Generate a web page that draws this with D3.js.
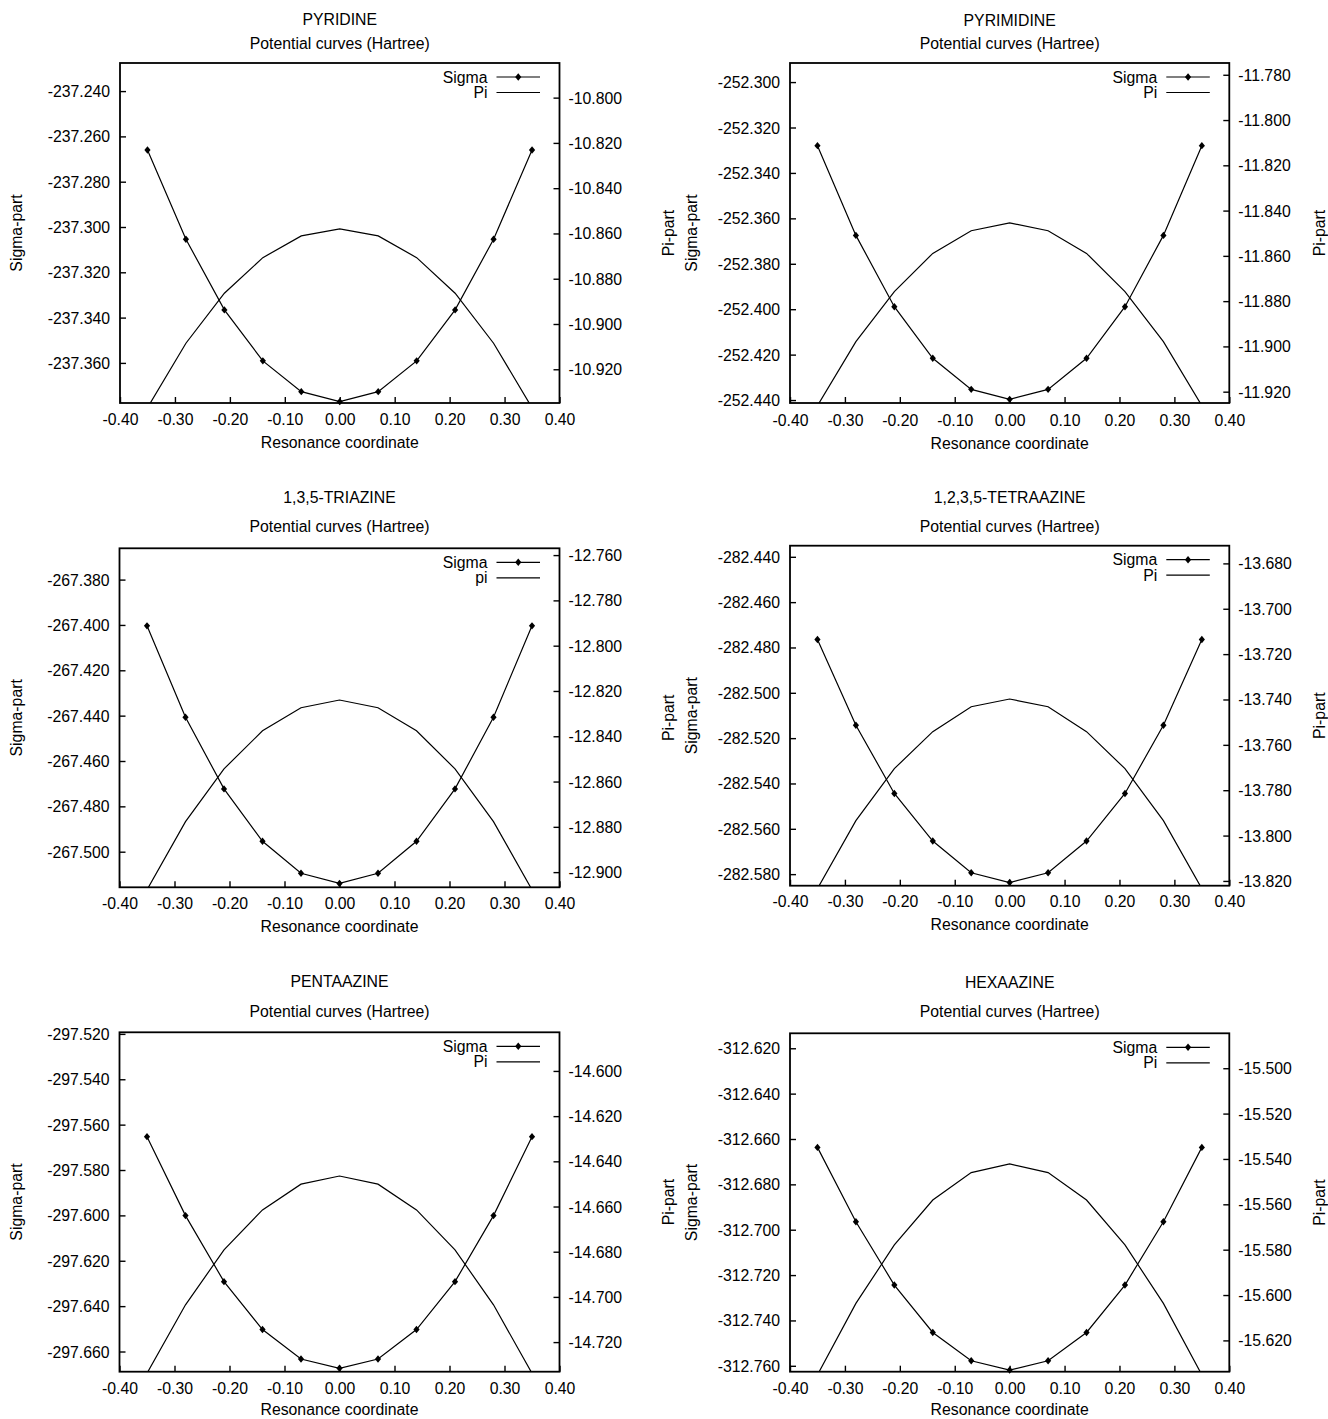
<!DOCTYPE html>
<html>
<head>
<meta charset="utf-8">
<script src="https://cdn.jsdelivr.net/npm/d3@7"></script>
<style>
  html, body { margin: 0; padding: 0; background: #fff; }
  svg { display: block; }
</style>
</head>
<body>
<svg id="chart" width="1328" height="1419"></svg>
<script>
// ---------------- DATA ----------------
const xValues = [-0.35, -0.28, -0.21, -0.14, -0.07, 0.00, 0.07, 0.14, 0.21, 0.28, 0.35];
const xTicks = [-0.40, -0.30, -0.20, -0.10, 0.00, 0.10, 0.20, 0.30, 0.40];

const moleculeNames = ["PYRIDINE", "PYRIMIDINE", "1,3,5-TRIAZINE", "1,2,3,5-TETRAAZINE", "PENTAAZINE", "HEXAAZINE"];
const legendLabels = [["Sigma", "Pi"], ["Sigma", "Pi"], ["Sigma", "pi"], ["Sigma", "Pi"], ["Sigma", "Pi"], ["Sigma", "Pi"]];

const pyridineSigma   = [-237.2660, -237.3054, -237.3366, -237.3591, -237.3727, -237.3771, -237.3727, -237.3591, -237.3366, -237.3054, -237.2660];
const pyridinePi      = [-10.9370, -10.9085, -10.8864, -10.8707, -10.8611, -10.8580, -10.8611, -10.8707, -10.8864, -10.9085, -10.9370];
const pyrimidineSigma = [-252.3280, -252.3675, -252.3989, -252.4216, -252.4353, -252.4397, -252.4353, -252.4216, -252.3989, -252.3675, -252.3280];
const pyrimidinePi    = [-11.9262, -11.8979, -11.8758, -11.8589, -11.8489, -11.8454, -11.8489, -11.8589, -11.8758, -11.8979, -11.9262];
const triazineSigma   = [-267.4004, -267.4407, -267.4723, -267.4954, -267.5095, -267.5140, -267.5095, -267.4954, -267.4723, -267.4407, -267.4004];
const triazinePi      = [-12.9078, -12.8777, -12.8544, -12.8376, -12.8274, -12.8240, -12.8274, -12.8376, -12.8544, -12.8777, -12.9078];
const tetraazineSigma = [-282.4765, -282.5143, -282.5444, -282.5654, -282.5794, -282.5837, -282.5794, -282.5654, -282.5444, -282.5143, -282.4765];
const tetraazinePi    = [-13.8234, -13.7934, -13.7705, -13.7542, -13.7432, -13.7398, -13.7432, -13.7542, -13.7705, -13.7934, -13.8234];
const pentaazineSigma = [-297.5653, -297.6001, -297.6292, -297.6503, -297.6633, -297.6674, -297.6633, -297.6503, -297.6292, -297.6001, -297.5653];
const pentaazinePi    = [-14.7338, -14.7035, -14.6792, -14.6615, -14.6501, -14.6465, -14.6501, -14.6615, -14.6792, -14.7035, -14.7338];
const hexaazineSigma  = [-312.6637, -312.6965, -312.7244, -312.7453, -312.7578, -312.7619, -312.7578, -312.7453, -312.7244, -312.6965, -312.6637];
const hexaazinePi     = [-15.6352, -15.6037, -15.5779, -15.5581, -15.5460, -15.5422, -15.5460, -15.5581, -15.5779, -15.6037, -15.6352];

const sigmaDomains = [[-237.3777, -237.2276], [-252.4413, -252.2916], [-267.5157, -267.3662], [-282.5851, -282.4351], [-297.6689, -297.5193], [-312.7626, -312.6134]];
const piDomains    = [[-10.9349, -10.7847], [-11.9250, -11.7748], [-12.9067, -12.7570], [-13.8221, -13.6722], [-14.7331, -14.5829], [-15.6338, -15.4846]];

const pyridineSigmaTicks   = [-237.240, -237.260, -237.280, -237.300, -237.320, -237.340, -237.360];
const pyridinePiTicks      = [-10.800, -10.820, -10.840, -10.860, -10.880, -10.900, -10.920];
const pyrimidineSigmaTicks = [-252.300, -252.320, -252.340, -252.360, -252.380, -252.400, -252.420, -252.440];
const pyrimidinePiTicks    = [-11.780, -11.800, -11.820, -11.840, -11.860, -11.880, -11.900, -11.920];
const triazineSigmaTicks   = [-267.380, -267.400, -267.420, -267.440, -267.460, -267.480, -267.500];
const triazinePiTicks      = [-12.760, -12.780, -12.800, -12.820, -12.840, -12.860, -12.880, -12.900];
const tetraazineSigmaTicks = [-282.440, -282.460, -282.480, -282.500, -282.520, -282.540, -282.560, -282.580];
const tetraazinePiTicks    = [-13.680, -13.700, -13.720, -13.740, -13.760, -13.780, -13.800, -13.820];
const pentaazineSigmaTicks = [-297.520, -297.540, -297.560, -297.580, -297.600, -297.620, -297.640, -297.660];
const pentaazinePiTicks    = [-14.600, -14.620, -14.640, -14.660, -14.680, -14.700, -14.720];
const hexaazineSigmaTicks  = [-312.620, -312.640, -312.660, -312.680, -312.700, -312.720, -312.740, -312.760];
const hexaazinePiTicks     = [-15.500, -15.520, -15.540, -15.560, -15.580, -15.600, -15.620];

// ---------------- LAYOUT ----------------
const layout = [
  { x0: 120,   x1: 559.5,  y0: 63,     y1: 403,    title: 19.7,  sub: 43.0,   xt: 419.5,  xl: 442.7, ylab: 16.7,  y2lab: 668.3 },
  { x0: 790,   x1: 1229.3, y0: 63,     y1: 403,    title: 20.0,  sub: 43.3,   xt: 420.7,  xl: 443.3, ylab: 691.7, y2lab: 1319 },
  { x0: 119.5, x1: 559.5,  y0: 548.3,  y1: 887.3,  title: 497.3, sub: 526.7,  xt: 904.0,  xl: 926.7, ylab: 16.7,  y2lab: 668.3 },
  { x0: 790,   x1: 1229.3, y0: 545.7,  y1: 885.7,  title: 497.3, sub: 526.7,  xt: 901.7,  xl: 924.3, ylab: 691.7, y2lab: 1319 },
  { x0: 119.5, x1: 559.5,  y0: 1032.3, y1: 1371.7, title: 981.7, sub: 1011.7, xt: 1388.3, xl: 1409.5, ylab: 16.7,  y2lab: 668.3 },
  { x0: 790,   x1: 1229.3, y0: 1033.3, y1: 1371.7, title: 982.7, sub: 1011.7, xt: 1388.3, xl: 1409.5, ylab: 691.7, y2lab: 1319 }
];

const panels = [
  { sigma: pyridineSigma,   pi: pyridinePi,   sTicks: pyridineSigmaTicks,   pTicks: pyridinePiTicks },
  { sigma: pyrimidineSigma, pi: pyrimidinePi, sTicks: pyrimidineSigmaTicks, pTicks: pyrimidinePiTicks },
  { sigma: triazineSigma,   pi: triazinePi,   sTicks: triazineSigmaTicks,   pTicks: triazinePiTicks },
  { sigma: tetraazineSigma, pi: tetraazinePi, sTicks: tetraazineSigmaTicks, pTicks: tetraazinePiTicks },
  { sigma: pentaazineSigma, pi: pentaazinePi, sTicks: pentaazineSigmaTicks, pTicks: pentaazinePiTicks },
  { sigma: hexaazineSigma,  pi: hexaazinePi,  sTicks: hexaazineSigmaTicks,  pTicks: hexaazinePiTicks }
];

const FONT = "'Liberation Sans', Arial, Helvetica, sans-serif";
const FS = 15.8;
const diamond = "M0,-3.7L3.1,0L0,3.7L-3.1,0Z";

const svg = d3.select("#chart");
svg.append("rect").attr("width", 1328).attr("height", 1419).attr("fill", "#fff");

panels.forEach((p, i) => {
  const L = layout[i];
  const x = d3.scaleLinear().domain([-0.4, 0.4]).range([L.x0, L.x1]);
  const yS = d3.scaleLinear().domain(sigmaDomains[i]).range([L.y1, L.y0]);
  const yP = d3.scaleLinear().domain(piDomains[i]).range([L.y1, L.y0]);
  const g = svg.append("g");

  const clipId = "clip" + i;
  svg.append("defs").append("clipPath").attr("id", clipId)
    .append("rect").attr("x", L.x0).attr("y", L.y0)
    .attr("width", L.x1 - L.x0).attr("height", L.y1 - L.y0);

  // axes
  const styleAxis = (sel, tx, ty, anchor) => {
    sel.attr("font-family", FONT).attr("font-size", FS);
    sel.select(".domain").remove();
    sel.selectAll(".tick line").attr("stroke", "#000").attr("stroke-width", 1.4);
    sel.selectAll(".tick text").attr("fill", "#000")
      .attr("x", tx).attr("y", ty).attr("dy", null)
      .attr("dominant-baseline", "central").attr("text-anchor", anchor);
  };
  g.append("g").attr("transform", `translate(${L.x0},0)`)
    .call(d3.axisLeft(yS).tickValues(p.sTicks).tickFormat(d => d.toFixed(3)).tickSize(-6))
    .call(styleAxis, -10, 0, "end");
  g.append("g").attr("transform", `translate(${L.x1},0)`)
    .call(d3.axisRight(yP).tickValues(p.pTicks).tickFormat(d => d.toFixed(3)).tickSize(-6))
    .call(styleAxis, 9, 0, "start");
  g.append("g").attr("transform", `translate(0,${L.y1})`)
    .call(d3.axisBottom(x).tickValues(xTicks).tickFormat(d => d.toFixed(2)).tickSize(-6))
    .call(styleAxis, 0, L.xt - L.y1, "middle");

  // curves
  const lineS = d3.line().x((d, k) => x(xValues[k])).y(d => yS(d));
  const lineP = d3.line().x((d, k) => x(xValues[k])).y(d => yP(d));
  const cg = g.append("g").attr("clip-path", `url(#${clipId})`);
  cg.append("path").datum(p.pi).attr("d", lineP)
    .attr("fill", "none").attr("stroke", "#000").attr("stroke-width", 1.2);
  cg.append("path").datum(p.sigma).attr("d", lineS)
    .attr("fill", "none").attr("stroke", "#000").attr("stroke-width", 1.2);
  g.append("g").selectAll("path").data(p.sigma).join("path")
    .attr("d", diamond)
    .attr("transform", (d, k) => `translate(${x(xValues[k])},${yS(d)})`)
    .attr("fill", "#000");

  // frame
  g.append("rect").attr("x", L.x0).attr("y", L.y0)
    .attr("width", L.x1 - L.x0).attr("height", L.y1 - L.y0)
    .attr("fill", "none").attr("stroke", "#000").attr("stroke-width", 1.8);

  // titles
  const cx = (L.x0 + L.x1) / 2;
  const txt = (tx, ty, s, rot, anchor) => {
    return g.append("text").attr("font-family", FONT).attr("font-size", FS)
      .attr("text-anchor", anchor || "middle").attr("dominant-baseline", "central").attr("fill", "#000")
      .attr("transform", rot ? `translate(${tx},${ty}) rotate(-90)` : `translate(${tx},${ty})`)
      .text(s);
  };
  txt(cx, L.title, moleculeNames[i]);
  txt(cx, L.sub, "Potential curves (Hartree)");
  txt(cx, L.xl, "Resonance coordinate");
  const cy = (L.y0 + L.y1) / 2;
  txt(L.ylab, cy, "Sigma-part", true);
  txt(L.y2lab, cy, "Pi-part", true);

  // legend
  const lx1 = L.x1 - 19.5, lx0 = L.x1 - 63, tx = L.x1 - 72;
  const ly1 = L.y0 + 14, ly2 = L.y0 + 29.5;
  const leg = g.append("g");
  [ly1, ly2].forEach((ly, k) => {
    txt(tx, ly, legendLabels[i][k], false, "end");
    leg.append("line").attr("x1", lx0).attr("x2", lx1).attr("y1", ly).attr("y2", ly)
      .attr("stroke", "#000").attr("stroke-width", 1.2);
  });
  leg.append("path").attr("d", diamond).attr("transform", `translate(${(lx0 + lx1) / 2},${ly1})`).attr("fill", "#000");
});
</script>
</body>
</html>
